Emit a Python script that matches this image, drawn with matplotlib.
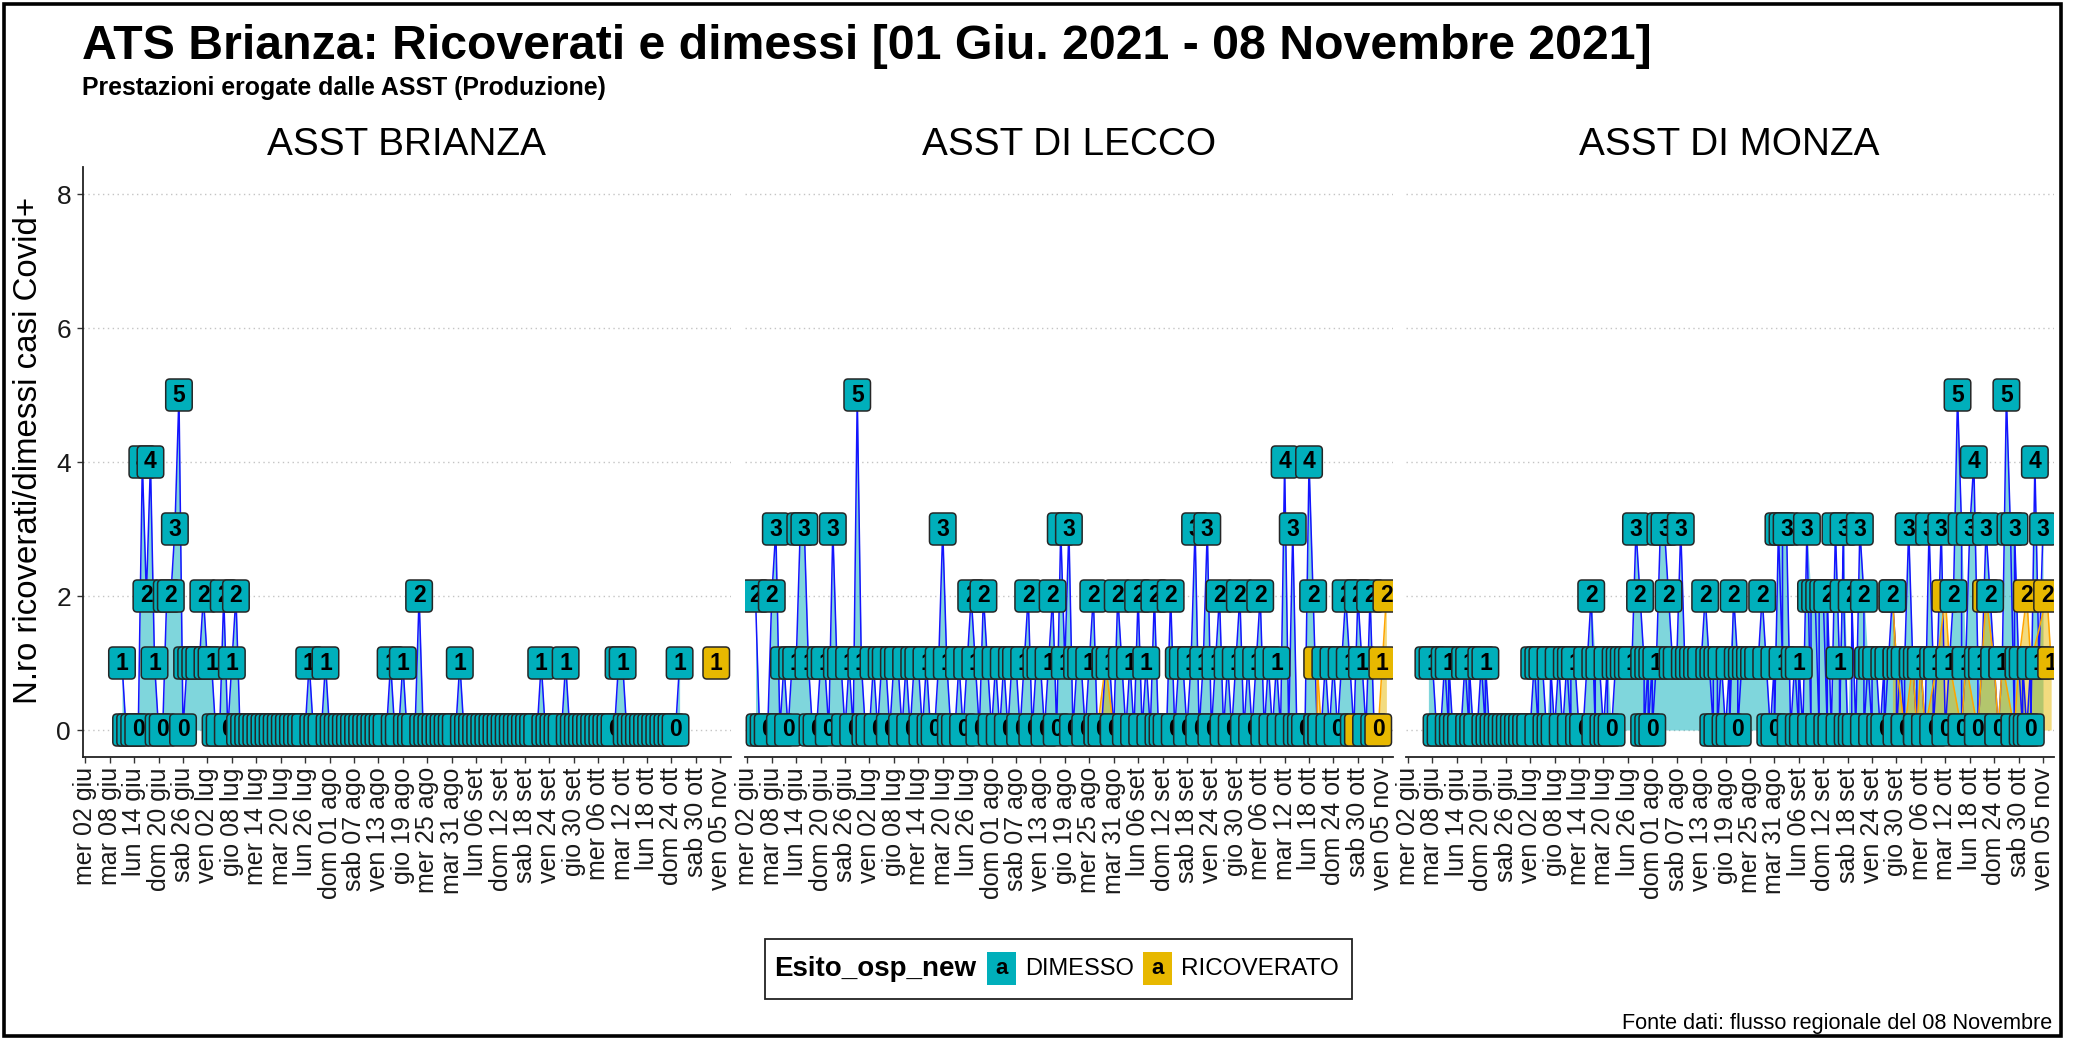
import numpy as np
import matplotlib
matplotlib.use("Agg")
import matplotlib.pyplot as plt
from matplotlib import font_manager
from matplotlib.patches import FancyBboxPatch, Rectangle

# CONFIG
W, H, DPI = 2074, 1040, 100
TEAL = "#00AFBB"
GOLD = "#E7B800"

installed = {f.name for f in font_manager.fontManager.ttflist}
SANS = "Liberation Sans" if "Liberation Sans" in installed else "DejaVu Sans"
NARROW = "Liberation Sans Narrow" if "Liberation Sans Narrow" in installed else SANS
plt.rcParams["font.family"] = [SANS, "DejaVu Sans"]

# 1. TEXTS
TITLE = "ATS Brianza: Ricoverati e dimessi [01 Giu. 2021 - 08 Novembre 2021]"
SUBTITLE = "Prestazioni erogate dalle ASST (Produzione)"
YLABEL = "N.ro ricoverati/dimessi casi Covid+"
CAPTION = "Fonte dati: flusso regionale del 08 Novembre"
PANELS = ["ASST BRIANZA", "ASST DI LECCO", "ASST DI MONZA"]

# day index 0 = mer 02 giu 2021
TICK_POS = [0, 6, 12, 18, 24, 30, 36, 42, 48, 54, 60, 66, 72, 78, 84, 90,
            96, 102, 108, 114, 120, 126, 132, 138, 144, 150, 156]
TICK_LABELS = ["mer 02 giu", "mar 08 giu", "lun 14 giu", "dom 20 giu", "sab 26 giu",
               "ven 02 lug", "gio 08 lug", "mer 14 lug", "mar 20 lug", "lun 26 lug",
               "dom 01 ago", "sab 07 ago", "ven 13 ago", "gio 19 ago", "mer 25 ago",
               "mar 31 ago", "lun 06 set", "dom 12 set", "sab 18 set", "ven 24 set",
               "gio 30 set", "mer 06 ott", "mar 12 ott", "lun 18 ott", "dom 24 ott",
               "sab 30 ott", "ven 05 nov"]

# 2. DATA: DIMESSO per day (None = no row, tuple = more rows that day)
BRIANZA_DIM = [
    None, None, None, None, None, None, None, None, None, 1,     # 0
    0, 0, 0, 0, 4, 2, 4, 1, 0, 0,                               # 10
    2, 2, 3, 5, 0, 1, 1, 1, 1, 2,                               # 20
    1, 1, 0, 0, 2, 0, 1, 2, 0, 0,                               # 30
    0, 0, 0, 0, 0, 0, 0, 0, 0, 0,                               # 40
    0, 0, 0, 0, 0, 1, 0, 0, 0, 1,                               # 50
    0, 0, 0, 0, 0, 0, 0, 0, 0, 0,                               # 60
    0, 0, 0, 0, 0, 1, 0, 0, 1, 0,                               # 70
    0, 0, 2, 0, 0, 0, 0, 0, 0, 0,                               # 80
    0, 0, 1, 0, 0, 0, 0, 0, 0, 0,                               # 90
    0, 0, 0, 0, 0, 0, 0, 0, 0, 0,                               # 100
    0, 0, 1, 0, 0, 0, 0, 0, 1, 0,                               # 110
    0, 0, 0, 0, 0, 0, 0, 0, 0, 0,                               # 120
    0, 1, 1, 0, 0, 0, 0, 0, 0, 0,                               # 130
    0, 0, 0, 0, 0, 0, 1, None, None, None,                      # 140
    None, None, None, None, None, None, None, None, None,       # 150
]

LECCO_DIM = [
    None, None, 2, 0, 0, 0, 2, 3, 0, 1,                         # 0
    0, 1, 1, 3, 3, 1, 0, 0, 1, 1,                               # 10
    0, 3, 1, 1, 0, 1, 0, 5, 1, 0,                               # 20
    0, 1, 0, 1, 1, 0, 1, 1, 0, 1,                               # 30
    0, 1, 1, 0, 1, 0, 0, 1, 3, 1,                               # 40
    0, 0, 1, 0, 1, 2, 1, 0, 2, 1,                               # 50
    0, 1, 0, 1, 0, 1, 1, 0, 1, 2,                               # 60
    0, 1, 1, 0, 1, 2, 0, 3, 1, 3,                               # 70
    0, 1, 1, 0, 1, 2, 0, 0, 1, 1,                               # 80
    0, 2, 1, 0, 1, 0, 2, 0, 1, 0,                               # 90
    2, 0, 0, 0, 2, 0, 1, 1, 0, 1,                               # 100
    3, 0, 1, 3, 0, 1, 2, 0, 1, 0,                               # 110
    1, 2, 0, 1, 0, 1, 2, 0, 1, 0,                               # 120
    1, 0, 4, 0, 3, 0, 0, 0, 4, 2,                               # 130
    0, 0, 1, 0, 1, 0, 1, 2, 1, 0,                               # 140
    2, 1, 0, 2, 0, None, None, None, None,                      # 150
]

MONZA_DIM = [
    None, None, None, None, None, 1, 1, 0, 0, 1,                # 0
    (0, 1), 0, 0, 0, 1, (0, 1), 0, 0, 1, (0, 1),                # 10
    0, 0, 0, 0, 0, 0, 0, 0, 0, 0,                               # 20
    0, 1, (0, 1), 1, 0, (0, 1), 0, 1, 0, 1,                     # 30
    (0, 1), 1, 0, 0, 1, 2, (0, 1), 1, 0, (1, 0),                # 40
    0, 1, 1, 1, 1, 1, 3, 2, (1, 0), (1, 0),                     # 50
    (1, 0), 1, 3, 3, 2, 1, 1, 3, 1, 1,                          # 60
    1, 1, 1, 2, 1, (0, 1), (1, 0), 1, 0, (1, 0),                # 70
    2, (1, 0), 1, 1, 1, 1, 1, 2, 1, 0,                          # 80
    (1, 0), 3, (1, 3), 3, 0, 1, (0, 1), 0, 3, (0, 2),           # 90
    2, (0, 2), 2, (0, 2), 0, 3, (1, 0), (3, 2), 0, (0, 2),      # 100
    0, 3, (2, 0), 1, (0, 1), 1, 0, (1, 0), 1, 2,                # 110
    (1, 0), 1, (0, 1), 3, 1, (0, 1), 1, 0, 3, (1, 0),           # 120
    1, 3, 0, 1, 2, 5, (3, 0), 1, 3, 4,                          # 130
    (1, 0), 1, 3, 2, 1, 0, 1, 5, 3, (0, 3),                     # 140
    1, (0, 1), 0, (1, 0), 4, 1, 3, None, None,                  # 150
]

# RICOVERATO rows (day index, value)
BRIANZA_RIC_DAY = [155]
BRIANZA_RIC_VAL = [1]
LECCO_RIC_DAY = [86, 88, 90, 140, 140, 141, 150, 155, 156, 157]
LECCO_RIC_VAL = [0, 1, 0, 0, 1, 0, 0, 0, 1, 2]
MONZA_RIC_DAY = [119, 120, 122, 124, 125, 126, 127, 130, 132, 133, 136, 137, 140,
                 141, 142, 144, 145, 146, 149, 150, 152, 153, 157, 158]
MONZA_RIC_VAL = [2, 1, 0, 1, 0, 1, 0, 1, 2, 1, 0, 1, 0,
                 1, 2, 1, 0, 1, 0, 1, 2, 1, 2, 1]

for arr in (BRIANZA_DIM, LECCO_DIM, MONZA_DIM):
    assert len(arr) == 159

DIM_DATA = [BRIANZA_DIM, LECCO_DIM, MONZA_DIM]
RIC_DATA = [(BRIANZA_RIC_DAY, BRIANZA_RIC_VAL), (LECCO_RIC_DAY, LECCO_RIC_VAL),
            (MONZA_RIC_DAY, MONZA_RIC_VAL)]

# 3. LAYOUT (pixels)
PANEL_LEFT = [82.9, 744.9, 1405.6]
PANEL_W = 648.0
PANEL_TOP, PANEL_BOT = 167.2, 756.8
XLIM = (-0.6, 158.6)
YLIM = (-0.4, 8.4)

px_day = PANEL_W / (XLIM[1] - XLIM[0])
px_unit = (PANEL_BOT - PANEL_TOP) / (YLIM[1] - YLIM[0])
BOX_W = 26.5 / px_day
BOX_H = 32.0 / px_unit
RND = 4.0 / px_day
ASPECT = px_day / px_unit


def rows(daily):
    xs, ys = [], []
    for d, v in enumerate(daily):
        if v is None:
            continue
        for k in (v if isinstance(v, tuple) else (v,)):
            xs.append(d)
            ys.append(k)
    return xs, ys


def day_top(daily):
    out = []
    for v in daily:
        if v is None:
            out.append(np.nan)
        else:
            out.append(float(max(v) if isinstance(v, tuple) else v))
    return np.array(out)


def draw_labels(ax, items):
    for i, (d, v, col) in enumerate(items):
        z = 3 + i * 0.002
        ax.add_patch(FancyBboxPatch((d - BOX_W / 2, v - BOX_H / 2), BOX_W, BOX_H,
                                    boxstyle=f"round,pad=0,rounding_size={RND:.3f}",
                                    mutation_aspect=ASPECT, fc=col, ec="#262626",
                                    lw=1.1, zorder=z))
        ax.text(d, v, str(v), ha="center", va="center", fontsize=16.5,
                fontweight="bold", color="black", zorder=z + 0.001, clip_on=True)


# 4. PLOT
fig = plt.figure(figsize=(W / DPI, H / DPI), dpi=DPI)
days = np.arange(159)

for p in range(3):
    ax = fig.add_axes([PANEL_LEFT[p] / W, 1 - PANEL_BOT / H, PANEL_W / W,
                       (PANEL_BOT - PANEL_TOP) / H])
    ax.set_xlim(*XLIM)
    ax.set_ylim(*YLIM)

    dim_x, dim_y = rows(DIM_DATA[p])
    ric_x, ric_y = RIC_DATA[p]

    # areas
    ax.fill_between(days, 0, day_top(DIM_DATA[p]), color=TEAL, alpha=0.5, lw=0, zorder=1)
    if len(ric_x) > 1:
        ax.fill_between(ric_x, 0, ric_y, color=GOLD, alpha=0.5, lw=0, zorder=1.1)

    # lines
    ax.plot(dim_x, dim_y, color="#1414ff", lw=1.1, zorder=2)
    if len(ric_x) > 1:
        ax.plot(ric_x, ric_y, color="#FFA500", lw=1.1, zorder=2.1)

    # labels, drawn in date order (ricoverato first within a day)
    items = [(d, 0, v, GOLD) for d, v in zip(ric_x, ric_y)]
    items += [(d, 1, v, TEAL) for d, v in zip(dim_x, dim_y)]
    items.sort(key=lambda t: (t[0], t[1]))
    draw_labels(ax, [(d, v, c) for d, g, v, c in items])

    # axes styling
    ax.set_yticks([0, 2, 4, 6, 8])
    ax.yaxis.grid(True, linestyle=(0, (1, 2.5)), color="#c4c4c4", lw=1.0)
    ax.set_axisbelow(True)
    ax.set_xticks(TICK_POS)
    ax.set_xticklabels(TICK_LABELS, rotation=90, fontsize=18, color="#1a1a1a")
    ax.tick_params(axis="x", length=4.5, width=1, color="#333333", pad=3)
    for s in ("top", "right"):
        ax.spines[s].set_visible(False)
    ax.spines["bottom"].set_linewidth(1.3)
    ax.spines["bottom"].set_color("#222222")
    if p == 0:
        ax.spines["left"].set_linewidth(1.3)
        ax.spines["left"].set_color("#222222")
        ax.tick_params(axis="y", length=4.5, width=1, color="#333333", pad=4,
                       labelsize=19, labelcolor="#1a1a1a")
    else:
        ax.spines["left"].set_visible(False)
        ax.tick_params(axis="y", left=False, labelleft=False)

renderer = fig.canvas.get_renderer()


def fit(t, target, vertical=False):
    bb = t.get_window_extent(renderer=renderer)
    size = bb.height if vertical else bb.width
    t.set_fontsize(t.get_fontsize() * target / size)


# 5. TEXTS
t = fig.text(82 / W, 1 - 59 / H, TITLE, fontsize=34, fontweight="bold",
             family=[NARROW, SANS], va="baseline")
fit(t, 1571)
t = fig.text(82 / W, 1 - 95 / H, SUBTITLE, fontsize=17, fontweight="bold", va="baseline")
fit(t, 525)

strips = []
for p, name in enumerate(PANELS):
    strips.append(fig.text((PANEL_LEFT[p] + PANEL_W / 2) / W, 1 - 155 / H, name,
                           fontsize=28, ha="center", va="baseline"))
fit(strips[1], 294)
for s in strips:
    s.set_fontsize(strips[1].get_fontsize())

t = fig.text(29 / W, 1 - 450 / H, YLABEL, rotation=90, ha="center", va="center", fontsize=19)
fit(t, 508, vertical=True)

t = fig.text(2052 / W, 1 - 1029 / H, CAPTION, ha="right", va="baseline", fontsize=16)
fit(t, 430)

# legend
fig.add_artist(Rectangle((765 / W, 1 - 999 / H), 587 / W, 60 / H, transform=fig.transFigure,
                         fill=False, ec="#222222", lw=1.3))
t = fig.text(774 / W, 1 - 969 / H, "Esito_osp_new", fontweight="bold", va="center", fontsize=19)
fit(t, 202)
for x0, col, name, x_txt, w_txt in [(987, TEAL, "DIMESSO", 1025, 109),
                                    (1143, GOLD, "RICOVERATO", 1181, 158)]:
    fig.add_artist(Rectangle((x0 / W, 1 - 985 / H), 29 / W, 33 / H, transform=fig.transFigure,
                             fc=col, ec="none"))
    fig.text((x0 + 14.5) / W, 1 - 968 / H, "a", ha="center", va="center",
             fontsize=16, fontweight="bold", color="black")
    t = fig.text(x_txt / W, 1 - 969 / H, name, va="center", fontsize=17)
    fit(t, w_txt)

# outer frame
fig.add_artist(Rectangle((4 / W, 1 - 1036 / H), 2057 / W, 1032 / H, transform=fig.transFigure,
                         fill=False, ec="black", lw=2.6))

fig.savefig("out.png", dpi=DPI)
